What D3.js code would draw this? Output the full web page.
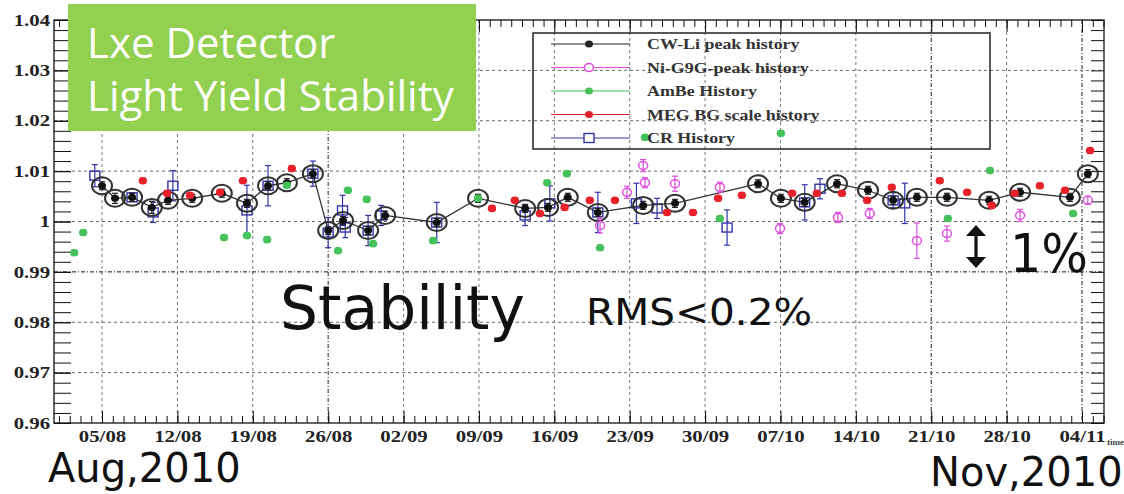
<!DOCTYPE html>
<html>
<head>
<meta charset="utf-8">
<script src="https://cdn.jsdelivr.net/npm/d3@7"></script>
<style>
  body { margin: 0; background: #fff; }
  svg { display: block; }
</style>
</head>
<body>
<div id="wrapper"></div>
<script>
const parseTime = d3.timeParse("%Y-%m-%d %H")

// CW-Li peak history (black)
const cwDates = ["2010-08-05 00","2010-08-06 05","2010-08-07 19","2010-08-09 15","2010-08-11 03","2010-08-13 09","2010-08-16 03","2010-08-18 11","2010-08-20 10","2010-08-22 04","2010-08-24 14","2010-08-26 00","2010-08-27 09","2010-08-29 17","2010-08-31 07","2010-09-05 02","2010-09-08 22","2010-09-13 07","2010-09-15 10","2010-09-17 06","2010-09-20 01","2010-09-24 06","2010-09-27 05","2010-10-04 22","2010-10-07 01","2010-10-09 06","2010-10-12 06","2010-10-15 03","2010-10-17 11","2010-10-19 16","2010-10-22 11","2010-10-26 09","2010-10-29 06","2010-11-02 21","2010-11-04 13"]
const cwValues = [1.0071,1.0046,1.0048,1.0028,1.0042,1.0046,1.0056,1.0036,1.0071,1.0077,1.0095,0.9982,1.0002,0.9982,1.0012,0.9998,1.0046,1.0026,1.0028,1.0048,1.0018,1.0032,1.0036,1.0075,1.0046,1.0038,1.0075,1.0062,1.0042,1.0048,1.0048,1.0042,1.0058,1.0048,1.0095]
const cwErrors = [0.0008,0.001,0.0008,0.0012,0.0008,0.0008,0.0008,0.0008,0.0008,0.0008,0.0008,0.0008,0.0008,0.0008,0.0008,0.0008,0.0008,0.0008,0.0008,0.0008,0.0008,0.0008,0.0008,0.0008,0.0008,0.0008,0.0008,0.0008,0.0008,0.0008,0.0008,0.0008,0.0008,0.0008,0.0008]

// Ni-G9G peak history (magenta)
const niDates = ["2010-09-20 06","2010-09-22 18","2010-09-24 06","2010-09-24 10","2010-09-27 05","2010-10-01 09","2010-10-06 23","2010-10-12 08","2010-10-15 07","2010-10-19 16","2010-10-22 11","2010-10-29 06","2010-11-04 13"]
const niValues = [0.9992,1.0058,1.0111,1.0077,1.0075,1.0068,0.9986,1.0008,1.0016,0.9962,0.9976,1.0012,1.0042]
const niErrors = [0.0015,0.0012,0.0012,0.001,0.0015,0.001,0.001,0.001,0.001,0.0035,0.0015,0.0012,0.0008]

// AmBe history (green)
const amDates = ["2010-08-02 10","2010-08-03 06","2010-08-16 08","2010-08-18 11","2010-08-20 08","2010-08-22 04","2010-08-26 22","2010-08-27 20","2010-08-29 14","2010-08-30 04","2010-09-04 18","2010-09-08 22","2010-09-15 08","2010-09-17 04","2010-09-20 06","2010-09-24 10","2010-10-01 09","2010-10-07 01","2010-10-22 13","2010-10-26 11","2010-11-03 04"]
const amValues = [0.9938,0.9978,0.9968,0.9972,0.9964,1.0072,0.9942,1.0062,1.0044,0.9956,0.9962,1.0046,1.0077,1.0095,0.9948,1.0167,1.0006,1.0175,1.0006,1.0101,1.0016]
const amErrors = [0.0005,0.0005,0.0005,0.0005,0.0005,0.0005,0.0005,0.0005,0.0005,0.0005,0.0005,0.0005,0.0005,0.0005,0.0005,0.0005,0.0005,0.0005,0.0005,0.0005,0.0005]

// MEG BG scale history (red)
const megDates = ["2010-08-08 19","2010-08-11 01","2010-08-13 04","2010-08-15 23","2010-08-18 02","2010-08-22 15","2010-09-10 05","2010-09-12 08","2010-09-14 16","2010-09-16 23","2010-09-19 07","2010-09-21 15","2010-09-26 11","2010-09-28 21","2010-10-01 05","2010-10-03 10","2010-10-08 02","2010-10-10 09","2010-10-12 17","2010-10-15 01","2010-10-17 08","2010-10-21 19","2010-10-24 08","2010-10-26 15","2010-10-28 18","2010-10-31 02","2010-11-02 10","2010-11-04 18"]
const megValues = [1.0081,1.0056,1.0052,1.0058,1.0081,1.0105,1.0026,1.0042,1.0016,1.0028,1.0042,1.0042,1.0018,1.0018,1.0046,1.0052,1.0056,1.0056,1.0056,1.0042,1.0068,1.0081,1.0058,1.0032,1.0056,1.0071,1.0062,1.0141]
const megErrors = [0.0005,0.0005,0.0005,0.0005,0.0005,0.0005,0.0005,0.0005,0.0005,0.0005,0.0005,0.0005,0.0005,0.0005,0.0005,0.0005,0.0005,0.0005,0.0005,0.0005,0.0005,0.0005,0.0005,0.0005,0.0005,0.0005,0.0005,0.0005]

// CR history (blue)
const crDates = ["2010-08-04 08","2010-08-07 19","2010-08-09 18","2010-08-11 14","2010-08-18 11","2010-08-20 10","2010-08-24 14","2010-08-26 00","2010-08-27 08","2010-08-27 14","2010-08-29 17","2010-08-30 22","2010-09-05 02","2010-09-13 07","2010-09-15 14","2010-09-20 01","2010-09-23 15","2010-09-25 13","2010-10-02 01","2010-10-09 06","2010-10-10 16","2010-10-17 11","2010-10-18 13"]
const crValues = [1.0091,1.0048,1.0018,1.0071,1.0022,1.0071,1.0095,0.9978,1.0022,0.9988,0.9982,1.0012,0.9998,1.0012,1.0036,1.0018,1.0036,1.0026,0.9988,1.0038,1.0065,1.0042,1.0036]
const crErrors = [0.0022,0.0008,0.002,0.003,0.005,0.004,0.0025,0.003,0.003,0.002,0.003,0.002,0.004,0.002,0.0035,0.004,0.004,0.002,0.0035,0.0035,0.002,0.0015,0.004]

// axes
const xDomain = ["2010-07-31 13", "2010-11-06 01"]
const yDomain = [0.96, 1.04]
const xTickDates = ["2010-08-05 00","2010-08-12 00","2010-08-19 00","2010-08-26 00","2010-09-02 00","2010-09-09 00","2010-09-16 00","2010-09-23 00","2010-09-30 00","2010-10-07 00","2010-10-14 00","2010-10-21 00","2010-10-28 00","2010-11-04 00"]
const yTickValues = [0.96, 0.97, 0.98, 0.99, 1, 1.01, 1.02, 1.03, 1.04]
const legendLabels = ["CW-Li peak history", "Ni-G9G-peak history", "AmBe History", "MEG BG scale history", "CR History"]

function drawChart() {

  // 1. Dimensions
  let dimensions = {
    width: 1124,
    height: 494,
    margin: { top: 20, right: 20, bottom: 71, left: 54 },
  }
  dimensions.boundedWidth = dimensions.width - dimensions.margin.left - dimensions.margin.right
  dimensions.boundedHeight = dimensions.height - dimensions.margin.top - dimensions.margin.bottom

  const wrapper = d3.select("#wrapper")
    .append("svg")
      .attr("width", dimensions.width)
      .attr("height", dimensions.height)

  const bounds = wrapper.append("g")
      .attr("transform", `translate(${dimensions.margin.left},${dimensions.margin.top})`)

  // scales
  const xScale = d3.scaleTime()
    .domain(xDomain.map(parseTime))
    .range([0, dimensions.boundedWidth])

  const yScale = d3.scaleLinear()
    .domain(yDomain)
    .range([dimensions.boundedHeight, 0])

  const xTicks = xTickDates.map(parseTime)

  // 2. Grid
  const darkX = ["2010-08-26 00", "2010-10-21 00", "2010-11-04 00"]
  const gridX = bounds.append("g")
  gridX.selectAll("line")
    .data(xTicks)
    .join("line")
      .attr("x1", d => xScale(d))
      .attr("x2", d => xScale(d))
      .attr("y1", 0)
      .attr("y2", dimensions.boundedHeight)
      .attr("stroke", (d, i) => darkX.includes(xTickDates[i]) ? "#222" : "#777")
      .attr("stroke-dasharray", (d, i) => darkX.includes(xTickDates[i]) ? "4,2,1,2" : "3,3")

  const gridY = bounds.append("g")
  gridY.selectAll("line")
    .data(yTickValues.slice(1, -1))
    .join("line")
      .attr("x1", 0)
      .attr("x2", dimensions.boundedWidth)
      .attr("y1", d => yScale(d))
      .attr("y2", d => yScale(d))
      .attr("stroke", d => d == 0.99 ? "#111" : "#666")
      .attr("stroke-dasharray", d => d == 0.99 ? "4,2,1,2" : "3,3")

  // 3. Axes
  const labelStyle = sel => sel
      .attr("font-family", "Liberation Serif, Times New Roman, serif")
      .attr("font-weight", "bold")
      .attr("font-size", 16)
      .attr("fill", "#222")

  const xAxis = bounds.append("g")
      .attr("transform", `translate(0,${dimensions.boundedHeight})`)
      .call(d3.axisBottom(xScale).tickValues(xTicks).tickSize(-12).tickPadding(8).tickFormat(d3.timeFormat("%d/%m")))
  xAxis.selectAll("text").call(labelStyle).attr("transform", "scale(1.3,1)")

  bounds.append("g")
      .attr("transform", `translate(0,${dimensions.boundedHeight})`)
      .call(d3.axisBottom(xScale).ticks(d3.timeDay.every(1)).tickSize(-7).tickFormat(""))

  bounds.append("g")
      .call(d3.axisTop(xScale).tickValues(xTicks).tickSize(-12).tickFormat(""))
  bounds.append("g")
      .call(d3.axisTop(xScale).ticks(d3.timeDay.every(1)).tickSize(-7).tickFormat(""))

  const yAxis = bounds.append("g")
      .call(d3.axisLeft(yScale).tickValues(yTickValues).tickSize(-17).tickPadding(3).tickFormat(d3.format("~g")))
  yAxis.selectAll("text").call(labelStyle).attr("transform", "scale(1.3,1)")

  const yMinor = d3.range(0, 41).map(i => 0.96 + i * 0.002)
  bounds.append("g")
      .call(d3.axisLeft(yScale).tickValues(yMinor).tickSize(-17).tickFormat(""))
  bounds.append("g")
      .attr("transform", `translate(${dimensions.boundedWidth},0)`)
      .call(d3.axisRight(yScale).tickValues(yMinor).tickSize(-13).tickFormat(""))

  bounds.selectAll(".domain").remove()
  bounds.selectAll(".tick line").attr("stroke", "#111")

  bounds.append("rect")
      .attr("width", dimensions.boundedWidth)
      .attr("height", dimensions.boundedHeight)
      .attr("fill", "none")
      .attr("stroke", "#111")
      .attr("stroke-width", 1.3)

  // 4. Data
  const makeSeries = (dates, values, errors) => dates.map((d, i) => ({
    date: parseTime(d), value: values[i], err: errors[i],
  }))
  const cw = makeSeries(cwDates, cwValues, cwErrors)
  const ni = makeSeries(niDates, niValues, niErrors)
  const am = makeSeries(amDates, amValues, amErrors)
  const meg = makeSeries(megDates, megValues, megErrors)
  const cr = makeSeries(crDates, crValues, crErrors)

  const drawErrors = (data, color) => {
    const g = bounds.append("g").attr("stroke", color).attr("stroke-width", 1.2)
    g.selectAll(".bar").data(data).join("line")
        .attr("x1", d => xScale(d.date)).attr("x2", d => xScale(d.date))
        .attr("y1", d => yScale(d.value - d.err)).attr("y2", d => yScale(d.value + d.err))
    g.selectAll(".capTop").data(data).join("line")
        .attr("x1", d => xScale(d.date) - 3).attr("x2", d => xScale(d.date) + 3)
        .attr("y1", d => yScale(d.value + d.err)).attr("y2", d => yScale(d.value + d.err))
    g.selectAll(".capBottom").data(data).join("line")
        .attr("x1", d => xScale(d.date) - 3).attr("x2", d => xScale(d.date) + 3)
        .attr("y1", d => yScale(d.value - d.err)).attr("y2", d => yScale(d.value - d.err))
  }

  // CR
  drawErrors(cr, "#3333a8")
  bounds.append("g").selectAll("rect").data(cr).join("rect")
      .attr("x", d => xScale(d.date) - 5)
      .attr("y", d => yScale(d.value) - 4.5)
      .attr("width", 10)
      .attr("height", 9)
      .attr("fill", "none")
      .attr("stroke", "#3333a8")
      .attr("stroke-width", 1.4)

  // CW-Li
  const lineGenerator = d3.line()
    .x(d => xScale(d.date))
    .y(d => yScale(d.value))
  bounds.append("path")
      .attr("d", lineGenerator(cw))
      .attr("fill", "none")
      .attr("stroke", "#333")
      .attr("stroke-width", 1.3)
  drawErrors(cw, "#222")
  bounds.append("g").selectAll("ellipse").data(cw).join("ellipse")
      .attr("cx", d => xScale(d.date))
      .attr("cy", d => yScale(d.value))
      .attr("rx", 10)
      .attr("ry", 8.5)
      .attr("fill", "none")
      .attr("stroke", "#333")
      .attr("stroke-width", 2)
  bounds.append("g").selectAll("ellipse").data(cw).join("ellipse")
      .attr("cx", d => xScale(d.date))
      .attr("cy", d => yScale(d.value))
      .attr("rx", 4)
      .attr("ry", 3.5)
      .attr("fill", "#111")

  // Ni
  drawErrors(ni, "#d84fd8")
  bounds.append("g").selectAll("ellipse").data(ni).join("ellipse")
      .attr("cx", d => xScale(d.date))
      .attr("cy", d => yScale(d.value))
      .attr("rx", 4.5)
      .attr("ry", 4)
      .attr("fill", "none")
      .attr("stroke", "#e050e0")
      .attr("stroke-width", 1.5)

  // AmBe
  drawErrors(am, "#3fbf55")
  bounds.append("g").selectAll("ellipse").data(am).join("ellipse")
      .attr("cx", d => xScale(d.date))
      .attr("cy", d => yScale(d.value))
      .attr("rx", 4.2)
      .attr("ry", 3.8)
      .attr("fill", "#45c25a")

  // MEG BG
  drawErrors(meg, "#e0202a")
  bounds.append("g").selectAll("ellipse").data(meg).join("ellipse")
      .attr("cx", d => xScale(d.date))
      .attr("cy", d => yScale(d.value))
      .attr("rx", 4.2)
      .attr("ry", 3.8)
      .attr("fill", "#e8212b")

  // 5. Legend
  const legend = wrapper.append("g")
  legend.append("rect")
      .attr("x", 533).attr("y", 33)
      .attr("width", 457).attr("height", 116)
      .attr("fill", "none")
      .attr("stroke", "#222")
      .attr("stroke-width", 1.5)

  const legendColors = ["#222", "#e050e0", "#45c25a", "#e0202a", "#3333a8"]
  const entries = legend.selectAll(".entry")
    .data(legendLabels)
    .join("g")
      .attr("transform", (d, i) => `translate(0,${44 + i * 23.5})`)
  entries.append("line")
      .attr("x1", 551).attr("x2", 630)
      .attr("stroke", (d, i) => legendColors[i])
      .attr("stroke-width", 1.2)
  entries.each(function(d, i) {
    const g = d3.select(this)
    if (i == 4) {
      g.append("rect").attr("x", 584).attr("y", -4.5).attr("width", 10).attr("height", 9)
        .attr("fill", "#fff").attr("stroke", legendColors[i]).attr("stroke-width", 1.4)
    } else if (i == 1) {
      g.append("ellipse").attr("cx", 589).attr("rx", 4.5).attr("ry", 4)
        .attr("fill", "#fff").attr("stroke", legendColors[i]).attr("stroke-width", 1.5)
    } else {
      g.append("ellipse").attr("cx", 589).attr("rx", 4).attr("ry", 3.6).attr("fill", legendColors[i])
    }
  })
  entries.append("text")
      .attr("transform", "translate(647,5) scale(1.28,1)")
      .attr("font-family", "Liberation Serif, Times New Roman, serif")
      .attr("font-weight", "bold")
      .attr("font-size", 14)
      .attr("fill", "#333")
      .text(d => d)

  // 6. Annotations
  wrapper.append("rect")
      .attr("x", 68).attr("y", 4)
      .attr("width", 408).attr("height", 127)
      .attr("fill", "#92d050")
  const titleLines = ["Lxe Detector", "Light Yield Stability"]
  wrapper.append("g").selectAll("text")
    .data(titleLines)
    .join("text")
      .attr("x", 87)
      .attr("y", (d, i) => 58 + i * 53)
      .attr("font-family", "Open Sans, sans-serif")
      .attr("font-size", 42)
      .attr("fill", "#fff")
      .text(d => d)

  const big = (x, y, size, txt, len) => {
    const t = wrapper.append("text")
        .attr("x", x).attr("y", y)
        .attr("font-family", "DejaVu Sans, sans-serif")
        .attr("font-size", size)
        .attr("fill", "#111")
        .text(txt)
    if (len) t.attr("textLength", len).attr("lengthAdjust", "spacingAndGlyphs")
    return t
  }
  big(280, 329, 60, "Stability", 245)
  big(586, 325, 38, "RMS<0.2%", 226)
  big(1010, 272, 54, "1%", 78)

  // double arrow
  const ax = 976, top = 225, bottom = 268
  wrapper.append("path")
      .attr("d", `M${ax},${top} L${ax + 10},${top + 11} L${ax + 1.6},${top + 11} L${ax + 1.6},${bottom - 11} L${ax + 10},${bottom - 11} L${ax},${bottom} L${ax - 10},${bottom - 11} L${ax - 1.6},${bottom - 11} L${ax - 1.6},${top + 11} L${ax - 10},${top + 11} Z`)
      .attr("fill", "#111")

  wrapper.append("text")
      .attr("x", 1107).attr("y", 445)
      .attr("font-family", "Liberation Serif, serif")
      .attr("font-weight", "bold")
      .attr("font-size", 9)
      .attr("fill", "#444")
      .text("time")

  big(48, 482, 40, "Aug,2010")
  big(930, 486, 40, "Nov,2010")
}

drawChart()
</script>
</body>
</html>
